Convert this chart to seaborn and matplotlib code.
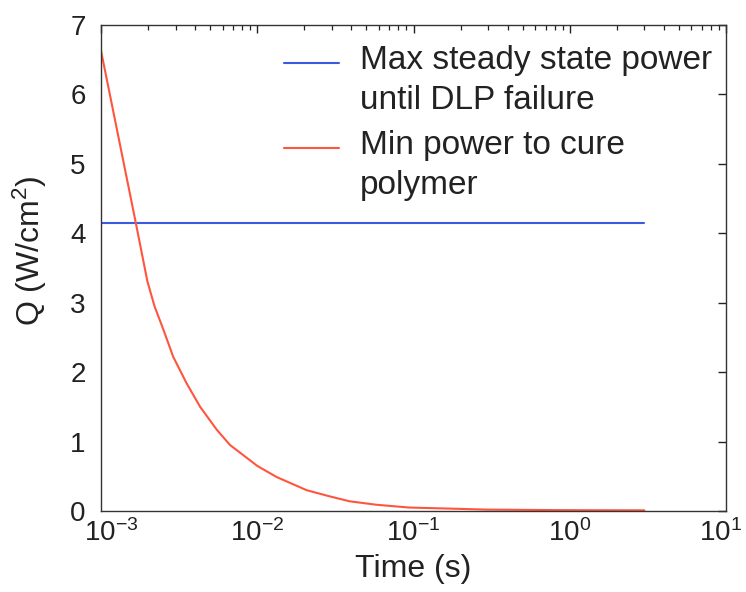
import matplotlib
matplotlib.use("Agg")
import matplotlib.pyplot as plt
from matplotlib.ticker import LogLocator, NullFormatter
from matplotlib.transforms import ScaledTranslation
import seaborn as sns
import pandas as pd

# Data
blue_label = "Max steady state power\nuntil DLP failure"
red_label = "Min power to cure\npolymer"
blue_t = [1e-3, 3.0]
blue_q = [4.15, 4.15]
red_t = [1.0e-3, 1.67e-3, 1.98e-3, 2.2e-3, 2.51e-3, 2.9e-3, 3.53e-3, 4.31e-3,
         5.51e-3, 6.7e-3, 8.99e-3, 1.0e-2, 1.33e-2, 2.07e-2, 2.92e-2, 3.9e-2,
         5.8e-2, 9.4e-2, 0.3, 1.0, 3.0]
red_q = [6.63, 4.15, 3.31, 2.95, 2.61, 2.22, 1.84, 1.50,
         1.17, 0.95, 0.73, 0.65, 0.49, 0.30, 0.21, 0.14,
         0.09, 0.05, 0.02, 0.012, 0.01]
x_ticks = [1e-3, 1e-2, 1e-1, 1e0, 1e1]
y_ticks = [0, 1, 2, 3, 4, 5, 6, 7]

sns.set_style("white")
plt.rcParams['font.family'] = ['Liberation Sans', 'DejaVu Sans']
plt.rcParams['mathtext.fontset'] = 'custom'
plt.rcParams['mathtext.rm'] = 'Liberation Sans'
plt.rcParams['mathtext.it'] = 'Liberation Sans'
plt.rcParams['mathtext.default'] = 'regular'

df = pd.concat([
    pd.DataFrame({"t": blue_t, "q": blue_q, "series": blue_label}),
    pd.DataFrame({"t": red_t, "q": red_q, "series": red_label}),
], ignore_index=True)

fig = plt.figure(figsize=(7.46, 5.92), dpi=100)
ax = fig.add_axes([0.1354, 0.1368, 0.8378, 0.8209])
sns.lineplot(data=df, x="t", y="q", hue="series",
             palette={blue_label: "#3a5ae0", red_label: "#ff553f"},
             linewidth=1.5, ax=ax, sort=False)
ax.set_xscale("log")
ax.set_xlim(1e-3, 1e1)
ax.set_ylim(0, 7)
ax.set_xticks(x_ticks)
ax.xaxis.set_minor_locator(LogLocator(base=10, subs=[2, 3, 4, 5, 6, 7, 8, 9], numticks=20))
ax.xaxis.set_minor_formatter(NullFormatter())
ax.set_yticks(y_ticks)
ax.tick_params(axis="both", which="both", direction="in", top=True, right=True,
               labelsize=20, colors="#222222")
ax.tick_params(which="major", length=6, width=1)
ax.tick_params(which="minor", length=3.5, width=0.9)
ax.tick_params(axis="x", which="major", pad=6)
ax.tick_params(axis="y", which="major", pad=11)
ax.set_xlabel("Time (s)", fontsize=23, color="#222222", labelpad=5)
ax.set_ylabel("Q (W/cm$^2$)", fontsize=23, color="#222222")
ax.yaxis.set_label_coords(-0.083, 0.536)
for s in ax.spines.values():
    s.set_color("#333333")
    s.set_linewidth(1)

# nudge the end tick labels inward, as in the reference
major = ax.xaxis.get_major_ticks()
first_lab = major[0].label1
first_lab.set_transform(first_lab.get_transform() + ScaledTranslation(0.10, 0, fig.dpi_scale_trans))
last_lab = major[-1].label1
last_lab.set_transform(last_lab.get_transform() + ScaledTranslation(-0.06, 0, fig.dpi_scale_trans))

leg = ax.legend(loc="upper left", bbox_to_anchor=(0.293, 0.958), frameon=False,
                fontsize=24, handlelength=1.65, borderpad=0, borderaxespad=0,
                labelspacing=0.42, handletextpad=0.62)
for t in leg.get_texts():
    t.set_color("#222222")
    t.set_linespacing(1.37)
# put each legend line next to the first line of its two-line label
for h in leg.legend_handles:
    y = h.get_ydata()
    h.set_ydata([v + 13.0 for v in y])
fig.savefig("out.png", dpi=100)
